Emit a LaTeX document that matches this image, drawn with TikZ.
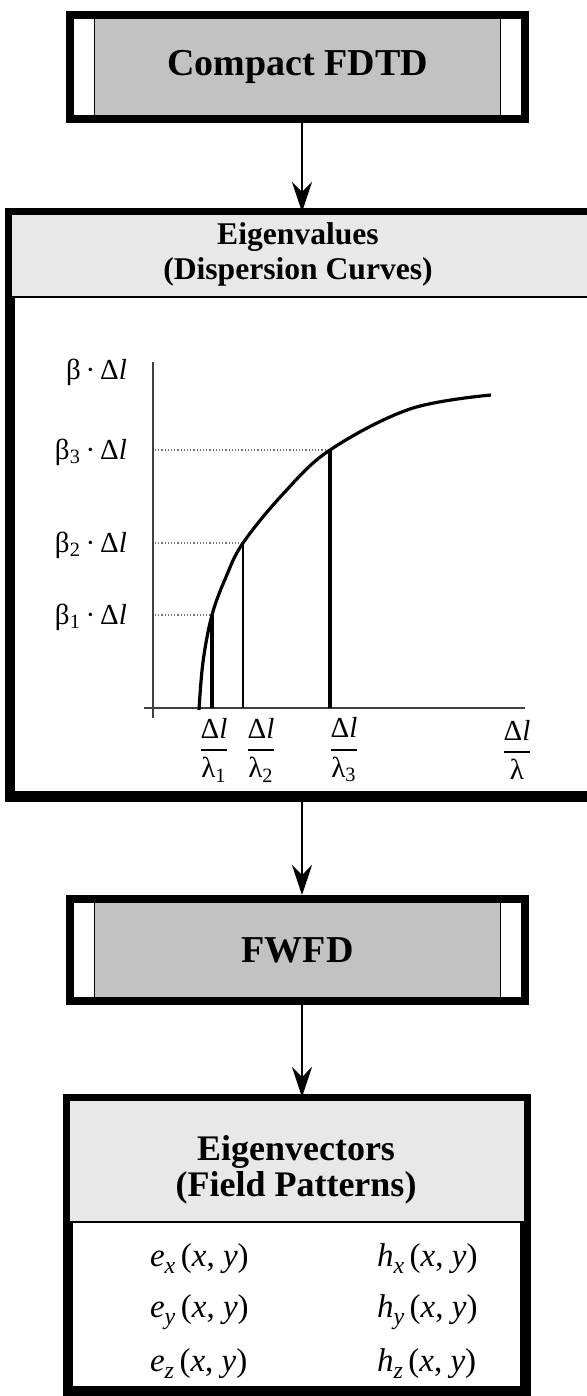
\documentclass[tikz,border=0pt]{standalone}
\usepackage{fontspec}
\setmainfont{Liberation Serif}
\usepackage{amsmath}
\usetikzlibrary{arrows.meta}

\newcommand{\dl}{Δ\textit{l}}
\newcommand{\lfrac}[2]{$\genfrac{}{}{1pt}{0}{\mbox{#1}}{\mbox{#2}}$}
\newcommand{\fcomp}[2]{\textit{#1}\raisebox{-0.45ex}{\fontsize{12}{12}\selectfont\textit{#2}}\,(\textit{x}, \textit{y})}

\tikzset{
  procbox/.style={draw,line width=3.8pt,fill=black!24,inner sep=0pt,
    font=\fontsize{19}{22}\selectfont\bfseries,
    path picture={
      \fill[white] (path picture bounding box.north west) rectangle ([xshift=12.25pt]path picture bounding box.south west);
      \fill[white] (path picture bounding box.north east) rectangle ([xshift=-12.25pt]path picture bounding box.south east);
      \draw[line width=0.6pt] ([xshift=12.25pt]path picture bounding box.north west) -- ([xshift=12.25pt]path picture bounding box.south west);
      \draw[line width=0.6pt] ([xshift=-12.25pt]path picture bounding box.north east) -- ([xshift=-12.25pt]path picture bounding box.south east);
    }},
  databox/.style={draw,line width=3.5pt,fill=white,inner sep=0pt},
  headtxt/.style={align=center,font=\fontsize{18}{18}\selectfont\bfseries},
  lbl/.style={font=\fontsize{14.5}{16}\selectfont},
  arr/.style={line width=0.8pt,-{Stealth[length=15pt,width=10pt,inset=5pt]}},
}

\begin{document}
\begin{tikzpicture}[x=0.5pt,y=-0.5pt]
\useasboundingbox (0,0) rectangle (586,1396);
\coordinate (ax) at (302,0);

% boxes of the chain
\node[procbox,minimum width=227.7pt,minimum height=52.2pt] (fdtd) at (297.5,67) {Compact FDTD};
\node[databox,minimum width=290.5pt,minimum height=289.5pt] (eigval) at (302,505) {};
\node[procbox,minimum width=227.7pt,minimum height=51.2pt] (fwfd) at (297.5,950) {FWFD};
\node[databox,minimum width=227pt,minimum height=144.5pt] (eigvec) at (296.5,1245) {};

% headers
\fill[black!9] ([shift={(1.75pt,-1.75pt)}]eigval.north west) rectangle ([xshift=-1.75pt]eigval.east |- 0,297);
\draw[line width=0.6pt] (eigval.west |- 0,297) -- (eigval.east |- 0,297);
\fill[black!9] ([shift={(1.75pt,-1.75pt)}]eigvec.north west) rectangle ([xshift=-1.75pt]eigvec.east |- 0,1222);
\draw[line width=0.6pt] (eigvec.west |- 0,1222) -- (eigvec.east |- 0,1222);
\draw[line width=3.5pt] (eigval.north west) rectangle (eigval.south east);
\draw[line width=3.5pt] (eigvec.north west) rectangle (eigvec.south east);
\node[headtxt,font=\fontsize{15.8}{17.5}\selectfont\bfseries] (valhead) at (298,254) {Eigenvalues\\(Dispersion Curves)};
\node[headtxt] (vechead) at (296,1170) {Eigenvectors\\(Field Patterns)};

% connectors
\draw[arr] (ax |- fdtd.south) -- (ax |- eigval.north);
\draw[arr] (ax |- eigval.south) -- (ax |- fwfd.north);
\draw[arr] (ax |- fwfd.south) -- (ax |- eigvec.north);

% dispersion diagram
\draw[black!75,line width=0.8pt] (153,362) -- (153,718);
\draw[black!75,line width=0.8pt] (144,708) -- (525,708);
\draw[black!55,densely dotted,line width=0.6pt] (155,615) -- (212,615);
\draw[black!55,densely dotted,line width=0.6pt] (155,543) -- (243,543);
\draw[black!55,densely dotted,line width=0.6pt] (155,450) -- (330,450);
\draw[line width=1.6pt] plot[smooth,tension=0.6] coordinates
  {(199,710) (203,662) (212,615) (226,577) (243,543) (283,494) (330,450) (410,409) (491,395)};
\draw[line width=1.7pt] (212,615) -- (212,708);
\draw[line width=1.1pt] (243,543) -- (243,708);
\draw[line width=1.7pt] (330,450) -- (330,708);

\node[lbl,anchor=east] (b0) at (134,372) {β\,·\,\dl};
\node[lbl,anchor=east] (b3) at (134,452) {β\textsubscript{3}\,·\,\dl};
\node[lbl,anchor=east] (b2) at (134,545) {β\textsubscript{2}\,·\,\dl};
\node[lbl,anchor=east] (b1) at (134,617) {β\textsubscript{1}\,·\,\dl};
\node[lbl] (l1) at (214,750) {\lfrac{\dl}{λ\textsubscript{1}}};
\node[lbl] (l2) at (261,750) {\lfrac{\dl}{λ\textsubscript{2}}};
\node[lbl] (l3) at (344,750) {\lfrac{\dl}{λ\textsubscript{3}}};
\node[lbl] (l0) at (517,750) {\lfrac{\dl}{λ}};

% field components
\foreach \c/\yy in {x/1259,y/1312,z/1364}{
  \node[lbl,font=\fontsize{16.5}{18}\selectfont,anchor=west] (e\c) at (143,\yy) {\fcomp{e}{\c}};
  \node[lbl,font=\fontsize{16.5}{18}\selectfont,anchor=west] (h\c) at (370,\yy) {\fcomp{h}{\c}};
}
\end{tikzpicture}
\end{document}
